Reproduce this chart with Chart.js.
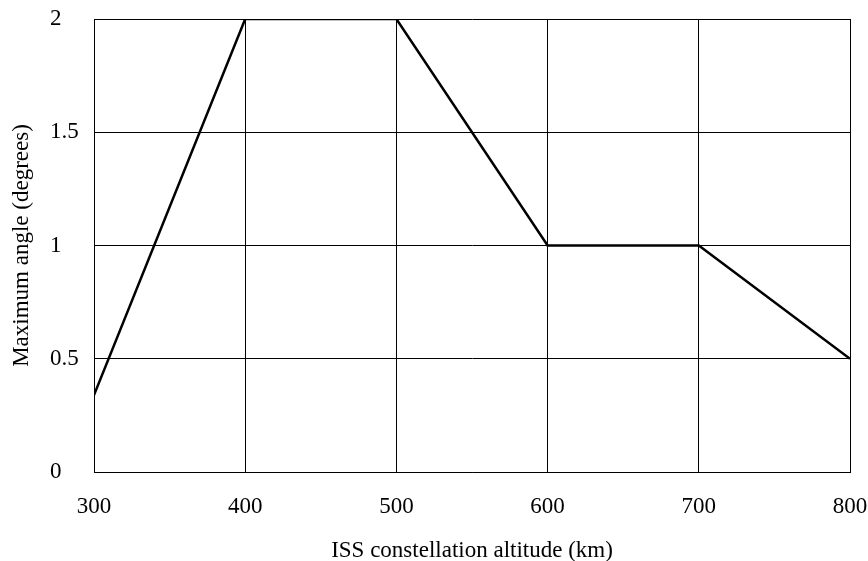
<!DOCTYPE html>
<html>
<head>
<meta charset="utf-8">
<script src="https://cdn.jsdelivr.net/npm/chart.js@4"></script>
<style>
  html, body { margin: 0; padding: 0; background: #fff; }
  #wrap { width: 868px; height: 561px; }
</style>
</head>
<body>
<div id="wrap"><canvas id="myChart" width="868" height="561"></canvas></div>
<script>
var altitudes = [300, 400, 500, 600, 700, 800];
var maxAngle = [0.34, 2, 2, 1, 1, 0.5];
var xTicks = [300, 400, 500, 600, 700, 800];
var yTicks = [0, 0.5, 1, 1.5, 2];

var serif = "'Liberation Serif', 'Times New Roman', serif";

var ctx = document.getElementById("myChart").getContext("2d");
var myChart = new Chart(ctx, {
  type: "line",
  data: {
    datasets: [
      {
        data: altitudes.map((a, i) => ({ x: a, y: maxAngle[i] })),
        yAxisID: "y",
        borderColor: "#000",
        borderWidth: 2.5,
        pointRadius: 0,
        tension: 0,
        fill: false,
      },
    ],
  },
  options: {
    responsive: false,
    animation: false,
    layout: { padding: { top: 19, right: 18, left: 0, bottom: 0 } },
    plugins: { legend: { display: false }, tooltip: { enabled: false } },
    scales: {
      x: {
        type: "linear",
        min: 300,
        max: 800,
        afterBuildTicks: (s) => { s.ticks = xTicks.map((v) => ({ value: v })); },
        afterFit: (s) => {
          s.height = 89;
          s.paddingLeft = 0;
          s.paddingRight = 0;
        },
        grid: { color: "#000", lineWidth: 1, drawTicks: false },
        border: { color: "#000", width: 1 },
        ticks: { color: "#000", padding: 21, font: { family: serif, size: 23 } },
        title: {
          display: true,
          text: "ISS constellation altitude (km)",
          color: "#000",
          font: { family: serif, size: 23, lineHeight: 0.85 },
          padding: { top: 0, bottom: 0 },
        },
      },
      // holds only the rotated y title, outside the tick labels
      yTitle: {
        type: "linear",
        position: "left",
        weight: 1,
        min: 0,
        max: 1,
        afterFit: (s) => {
          s.width = 50;
          s.paddingTop = 0;
          s.paddingBottom = 0;
        },
        grid: { display: false },
        border: { display: false },
        ticks: { display: false },
        title: {
          display: true,
          text: "Maximum angle (degrees)",
          color: "#000",
          font: { family: serif, size: 23 },
          padding: { top: 8, bottom: 0 },
        },
      },
      y: {
        type: "linear",
        position: "left",
        weight: 0,
        min: 0,
        max: 2,
        afterBuildTicks: (s) => { s.ticks = yTicks.map((v) => ({ value: v })); },
        afterFit: (s) => {
          s.width = 44;
          s.paddingTop = 0;
          s.paddingBottom = 0;
        },
        grid: { color: "#000", lineWidth: 1, drawTicks: false },
        border: { color: "#000", width: 1 },
        ticks: {
          color: "#000",
          padding: 16,
          crossAlign: "far",
          font: { family: serif, size: 23 },
          callback: (v) => String(v),
        },
      },
    },
  },
});
</script>
</body>
</html>
